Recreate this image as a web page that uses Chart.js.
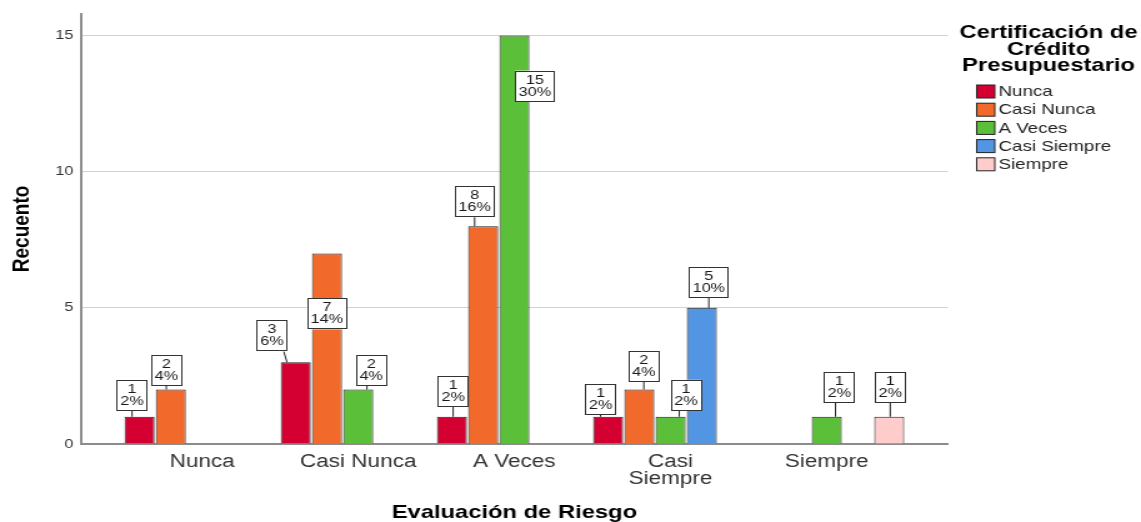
<!DOCTYPE html>
<html>
<head>
<meta charset="utf-8">
<title>Evaluación de Riesgo</title>
<script src="https://cdn.jsdelivr.net/npm/chart.js@4/dist/chart.umd.min.js"></script>
<style>
  html, body { margin: 0; padding: 0; background: #fff; overflow: hidden; }
  /* the chart is laid out at 913px and widened to the full 1141px page */
  #wrap { width: 913px; height: 522px; transform: scaleX(1.24973); transform-origin: 0 0; }
  canvas { display: block; }
</style>
</head>
<body>
<div id="wrap"><canvas id="chart" width="913" height="522"></canvas></div>
<script>
// Categories of "Evaluación de Riesgo" (x axis)
const categories = ['Nunca', 'Casi Nunca', 'A Veces', 'Casi Siempre', 'Siempre'];
const xTickLabels = ['Nunca', 'Casi Nunca', 'A Veces', ['Casi', 'Siempre'], 'Siempre'];
const yTicks = [0, 5, 10, 15];

// Series: "Certificación de Crédito Presupuestario" (counts per category)
const seriesNames = ['Nunca', 'Casi Nunca', 'A Veces', 'Casi Siempre', 'Siempre'];
const nunca       = [1, 3, 1, 1, null];
const casiNunca   = [2, 7, 8, 2, null];
const aVeces      = [null, 2, 15, 1, 1];
const casiSiempre = [null, null, null, 5, null];
const siempre     = [null, null, null, null, 1];
const seriesValues = [nunca, casiNunca, aVeces, casiSiempre, siempre];

const seriesColors = ['#d50032', '#f26a2b', '#5cbf3a', '#5295e3', '#ffcccc'];

// Label box placement per bar: [x shift from bar centre, box bottom relative to bar top]
const labelPlacement = [
  [[-6, -6], [-19, -11], [1, -10], [-6, -2], null],
  [[-3.6, -4], [0, 76], [-6.8, -9], [3.6, -8], null],
  [null, [10.4, -4], [16.4, 66], [12.4, -6], [10, -14]],
  [null, null, null, [5.6, -10], null],
  [null, null, null, null, [0.8, -14]]
];

const FONT = "'Liberation Sans', Arial, Helvetica, sans-serif";
Chart.defaults.font.family = FONT;

const total = seriesValues.flat().reduce((s, v) => s + (v || 0), 0);

// Count / percentage boxes with leader lines
const valueLabels = {
  id: 'valueLabels',
  afterDatasetsDraw(chart) {
    const ctx = chart.ctx;
    ctx.save();
    ctx.font = '13px ' + FONT;
    chart.data.datasets.forEach((ds, di) => {
      const meta = chart.getDatasetMeta(di);
      ds.data.forEach((pt, i) => {
        if (pt.y == null) return;
        const bar = meta.data[i];
        const place = labelPlacement[di][i];
        const lines = [String(pt.y), Math.round(pt.y / total * 100) + '%'];
        const w = Math.max(...lines.map(t => ctx.measureText(t).width)) + 6;
        const h = 31;
        const cx = bar.x + place[0];
        const bottom = bar.y + place[1];
        const top = bottom - h;
        const left = cx - w / 2;
        if (place[1] < 0) {
          const half = bar.width / 2;
          const ax = Math.min(Math.max(cx, bar.x - half + 5), bar.x + half - 5);
          const bx = Math.min(Math.max(ax, left + 3), left + w - 3);
          ctx.strokeStyle = '#222';
          ctx.lineWidth = 1;
          ctx.beginPath();
          ctx.moveTo(bx, bottom);
          ctx.lineTo(ax, bar.y);
          ctx.stroke();
        }
        ctx.fillStyle = '#fff';
        ctx.fillRect(left, top, w, h);
        ctx.strokeStyle = '#333';
        ctx.lineWidth = 1;
        ctx.strokeRect(Math.round(left) + 0.5, Math.round(top) + 0.5, Math.round(w) - 1, h - 1);
        ctx.fillStyle = '#1a1a1a';
        ctx.textAlign = 'center';
        ctx.textBaseline = 'middle';
        ctx.fillText(lines[0], cx, top + 9.5);
        ctx.fillText(lines[1], cx, top + 21.5);
      });
    });
    ctx.restore();
  }
};

// Legend with a centred three-line title on the right
const sideLegend = {
  id: 'sideLegend',
  afterDraw(chart) {
    const ctx = chart.ctx;
    ctx.save();
    ctx.fillStyle = '#000';
    ctx.textAlign = 'center';
    ctx.textBaseline = 'alphabetic';
    ctx.font = 'bold 19px ' + FONT;
    ['Certificación de', 'Crédito', 'Presupuestario'].forEach((t, k) => {
      ctx.fillText(t, 839, 38 + k * 16.5);
    });
    ctx.font = '15px ' + FONT;
    ctx.textAlign = 'left';
    ctx.textBaseline = 'middle';
    chart.data.datasets.forEach((ds, k) => {
      const cy = 91.5 + k * 18.2;
      ctx.fillStyle = ds.backgroundColor;
      ctx.fillRect(781.5, cy - 6.5, 14.5, 13);
      ctx.strokeStyle = '#222';
      ctx.lineWidth = 1;
      ctx.strokeRect(781.5, cy - 6.5, 14.5, 13);
      ctx.fillStyle = '#222';
      ctx.fillText(ds.label, 799, cy + 0.5);
    });
    ctx.restore();
  }
};

new Chart(document.getElementById('chart'), {
  type: 'bar',
  data: {
    datasets: seriesNames.map((name, k) => ({
      label: name,
      data: seriesValues[k].map((v, i) => ({ x: i, y: v })),
      backgroundColor: seriesColors[k],
      borderColor: '#1e1e1e',
      borderWidth: 1,
      barPercentage: 0.96,
      categoryPercentage: 1
    }))
  },
  options: {
    responsive: false,
    animation: false,
    devicePixelRatio: 1,
    layout: { padding: { top: 13, right: 154.6, left: 0, bottom: 0 } },
    plugins: { legend: { display: false }, tooltip: { enabled: false } },
    scales: {
      x: {
        type: 'linear',
        offset: false,
        min: -0.775,
        max: 4.775,
        grid: { display: false, drawTicks: false },
        border: { color: '#8c8c8c', width: 2 },
        afterBuildTicks: s => { s.ticks = categories.map((_, i) => ({ value: i })); },
        ticks: {
          callback: (v, i) => xTickLabels[i],
          autoSkip: false,
          maxRotation: 0,
          padding: 9,
          color: '#333',
          font: { size: 18, lineHeight: 0.95 }
        },
        title: {
          display: true,
          text: 'Evaluación de Riesgo',
          color: '#000',
          font: { size: 19, weight: 'bold', lineHeight: 1 },
          padding: { top: 0, bottom: 0 }
        },
        afterFit: s => { s.height = 78; }
      },
      y: {
        min: 0,
        max: 15.8,
        afterBuildTicks: s => { s.ticks = yTicks.map(v => ({ value: v })); },
        grid: { color: '#d2d2d2', lineWidth: 1, drawTicks: false },
        border: { color: '#8c8c8c', width: 2 },
        ticks: { padding: 6, color: '#333', font: { size: 13 } },
        title: {
          display: true,
          text: 'Recuento',
          color: '#000',
          font: { size: 19, weight: 'bold', lineHeight: 1 },
          padding: { top: 8.5, bottom: 0 }
        },
        afterFit: s => { s.width = 64.8; }
      }
    }
  },
  plugins: [valueLabels, sideLegend]
});
</script>
</body>
</html>
